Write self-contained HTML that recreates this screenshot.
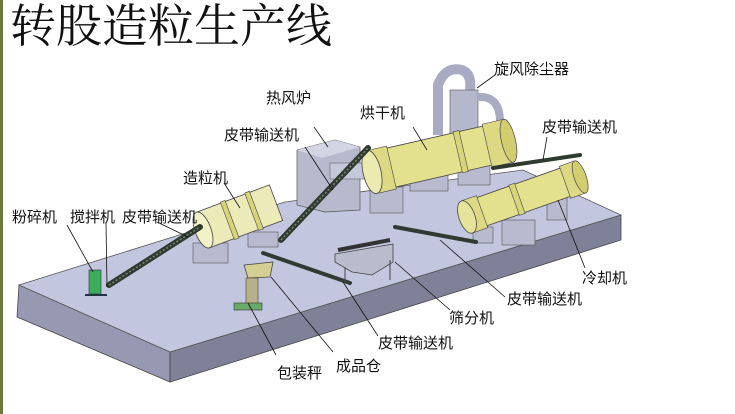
<!DOCTYPE html>
<html><head><meta charset="utf-8"><style>
html,body{margin:0;padding:0;background:#fff;overflow:hidden;}
svg{display:block}
text{font-family:"Liberation Sans","Noto Sans CJK SC",sans-serif;fill:#111;}
</style></head><body>
<svg width="735" height="414" viewBox="0 0 735 414" xmlns="http://www.w3.org/2000/svg">
<rect x="0" y="0" width="3" height="414" fill="#6b7a3a"/>
<text x="10" y="42" font-size="46" style="font-family:'Noto Serif CJK SC','Liberation Serif',serif">转股造粒生产线</text>

<!-- platform -->
<polygon points="17,317 170,382 621,240 621,215 170,352 19,285" fill="#8d8fa8"/>
<polygon points="17,317 170,382 170,352 19,285" fill="#9799b3" stroke="#444" stroke-width="0.8"/>
<polygon points="170,382 621,240 621,215 170,352" fill="#7f8199" stroke="#444" stroke-width="0.8"/>
<polygon points="19,285 285,202 523,170 621,215 170,352" fill="#c3c6df" stroke="#555" stroke-width="0.8"/>

<!-- furnace -->
<polygon points="297,150 335,140 360,147 360,210 325,212 297,205" fill="#b7b9cc" stroke="#555" stroke-width="0.7"/>
<polygon points="297,150 335,140 360,147 322,158" fill="#d3d5e4"/>
<rect x="330" y="163" width="38" height="16" fill="#c5c8da" stroke="#666" stroke-width="0.6"/>
<!-- cyclone -->
<path d="M438,135 L438,85 Q445,66 462,70 Q472,74 470,90" fill="none" stroke="#a8abc2" stroke-width="10"/>
<rect x="450" y="90" width="28" height="45" fill="#b5b8cd" stroke="#666" stroke-width="0.7"/>
<path d="M477,97 Q500,95 500,122" fill="none" stroke="#a8abc2" stroke-width="8"/>

<!-- pads -->
<g fill="#b8bbcf" stroke="#555" stroke-width="0.6">
<rect x="370" y="187" width="33" height="26"/><rect x="410" y="173" width="38" height="18"/>
<rect x="458" y="163" width="32" height="22"/>
<rect x="193" y="243" width="35" height="20"/><rect x="248" y="232" width="30" height="15"/>
<rect x="473" y="227" width="20" height="16"/><rect x="502" y="220" width="33" height="25"/><rect x="547" y="197" width="20" height="23"/>
</g>

<!-- dryer -->
<g transform="translate(372,172) rotate(-12.9)">
<rect x="0" y="-20" width="140" height="40" fill="#e3e08e" stroke="#444" stroke-width="0.8"/>
<rect x="0" y="-22" width="20" height="44" fill="#dcd884" stroke="#444" stroke-width="0.6"/>
<rect x="88" y="-21" width="6" height="42" fill="#d8d47a" stroke="#444" stroke-width="0.6"/>
<rect x="118" y="-22" width="22" height="44" fill="#dcd884" stroke="#444" stroke-width="0.6"/>
<ellipse cx="140" cy="0" rx="7" ry="22" fill="#d2ce70" stroke="#444" stroke-width="0.7"/>
<ellipse cx="0" cy="0" rx="9" ry="22" fill="#eceab0" stroke="#444" stroke-width="0.8"/>
</g>
<!-- cooler -->
<g transform="translate(467,217) rotate(-19.5)">
<rect x="0" y="-15" width="120" height="30" fill="#e3e08e" stroke="#444" stroke-width="0.8"/>
<rect x="0" y="-17" width="16" height="34" fill="#dcd884" stroke="#444" stroke-width="0.6"/>
<rect x="50" y="-16" width="6" height="32" fill="#d8d47a" stroke="#444" stroke-width="0.6"/>
<rect x="104" y="-17" width="16" height="34" fill="#dcd884" stroke="#444" stroke-width="0.6"/>
<ellipse cx="120" cy="0" rx="6" ry="17" fill="#d2ce70" stroke="#444" stroke-width="0.7"/>
<ellipse cx="0" cy="0" rx="8" ry="17" fill="#e6e39a" stroke="#444" stroke-width="0.8"/>
</g>
<!-- granulator -->
<g transform="translate(203,230) rotate(-20.5)">
<rect x="0" y="-19" width="78" height="38" fill="#eceab8" stroke="#444" stroke-width="0.8"/>
<rect x="26" y="-20" width="5" height="40" fill="#d8d47a" stroke="#444" stroke-width="0.6"/>
<rect x="52" y="-20" width="5" height="40" fill="#d8d47a" stroke="#444" stroke-width="0.6"/>
<ellipse cx="0" cy="0" rx="8" ry="19" fill="#f3f1c8" stroke="#444" stroke-width="0.8"/>
</g>

<!-- conveyors -->
<g stroke="#2f3a30" stroke-linecap="round">
<line x1="109" y1="285" x2="200" y2="227" stroke-width="6"/>
<line x1="281" y1="240" x2="368" y2="148" stroke-width="6"/>
<line x1="493" y1="168" x2="580" y2="155" stroke-width="4"/>
<line x1="476" y1="242" x2="395" y2="227" stroke-width="4"/>
<line x1="350" y1="283" x2="263" y2="253" stroke-width="4"/>
</g>
<g stroke="#7a8a70" stroke-width="1.5" stroke-dasharray="2 2">
<line x1="109" y1="285" x2="200" y2="227"/><line x1="281" y1="240" x2="368" y2="148"/>
</g>
<!-- screen -->
<polygon points="335,254 393,244 393,262 372,275 352,272 335,262" fill="#b9bccd" stroke="#444" stroke-width="0.8"/>
<line x1="338" y1="250" x2="390" y2="240" stroke="#333" stroke-width="4"/>
<line x1="345" y1="268" x2="345" y2="283" stroke="#444"/><line x1="390" y1="260" x2="390" y2="280" stroke="#444"/>
<!-- hopper & packer -->
<polygon points="244,265 273,262 270,277 248,278" fill="#d2cf90" stroke="#444" stroke-width="0.8"/>
<rect x="246" y="278" width="12" height="28" fill="#b8b08a" stroke="#444" stroke-width="0.6"/>
<rect x="234" y="303" width="28" height="7" fill="#6aaa6a" stroke="#333" stroke-width="0.6"/>
<!-- crusher -->
<rect x="89" y="270" width="12" height="24" fill="#3cad5a" stroke="#234" stroke-width="0.6"/>
<line x1="85" y1="295" x2="107" y2="295" stroke="#234" stroke-width="2"/>

<!-- leader lines -->
<g stroke="#111" stroke-width="0.8" fill="none">
<line x1="495" y1="75" x2="477" y2="88"/>
<line x1="413" y1="127" x2="427" y2="150"/>
<line x1="314" y1="127" x2="328" y2="147"/>
<line x1="305" y1="147" x2="333" y2="190"/>
<line x1="547" y1="137" x2="543" y2="160"/>
<line x1="224" y1="183" x2="240" y2="208"/>
<line x1="67" y1="225" x2="93" y2="272"/>
<line x1="106" y1="223" x2="107" y2="287"/>
<line x1="157" y1="222" x2="188" y2="237"/>
<line x1="585" y1="268" x2="558" y2="200"/>
<line x1="505" y1="297" x2="440" y2="240"/>
<line x1="450" y1="310" x2="395" y2="262"/>
<line x1="378" y1="336" x2="343" y2="282"/>
<line x1="276" y1="355" x2="248" y2="303"/>
<line x1="333" y1="352" x2="271" y2="277"/>
</g>

<!-- labels -->
<g font-size="15">
<text x="494" y="74">旋风除尘器</text>
<text x="360" y="118">烘干机</text>
<text x="266" y="103">热风炉</text>
<text x="224" y="140">皮带输送机</text>
<text x="542" y="132">皮带输送机</text>
<text x="183" y="183">造粒机</text>
<text x="12" y="222">粉碎机</text>
<text x="70" y="222">搅拌机</text>
<text x="122" y="222">皮带输送机</text>
<text x="582" y="283">冷却机</text>
<text x="507" y="304">皮带输送机</text>
<text x="449" y="323">筛分机</text>
<text x="378" y="348">皮带输送机</text>
<text x="277" y="378">包装秤</text>
<text x="336" y="371">成品仓</text>
</g>
</svg>
</body></html>
